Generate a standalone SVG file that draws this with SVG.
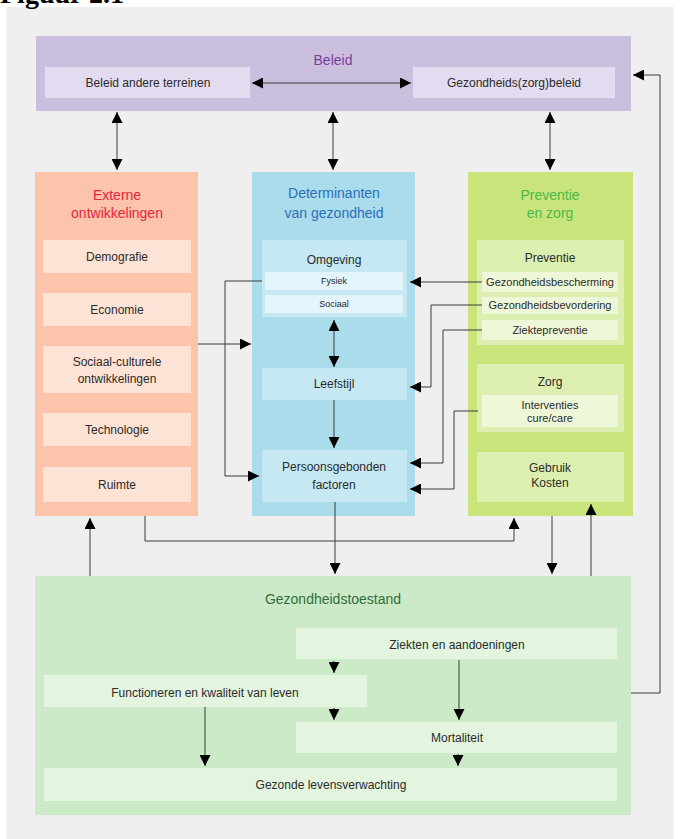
<svg xmlns="http://www.w3.org/2000/svg" width="680" height="839" viewBox="0 0 680 839">
<defs>
<style>
text{font-family:"Liberation Sans",Arial,sans-serif;fill:#2b2b2b;text-anchor:middle;font-size:12px}
.t{font-size:14px}
.s{font-size:11px}
.xs{font-size:9px}
.ln{fill:none;stroke:#3a3a3a;stroke-width:1}
.a{marker-end:url(#ah)}
.aa{marker-start:url(#ah);marker-end:url(#ah)}
</style>
<marker id="ah" viewBox="0 0 10 10" refX="10" refY="5" markerWidth="11" markerHeight="11" markerUnits="userSpaceOnUse" orient="auto-start-reverse">
<path d="M0,0 L10,5 L0,10 z" fill="#000"/>
</marker>
</defs>
<rect x="0" y="0" width="680" height="839" fill="#fff"/>
<rect x="6" y="7" width="668" height="832" fill="#efefef"/>
<text x="0" y="3" style="font-family:'Liberation Serif','Times New Roman',serif;font-size:28px;font-weight:bold;text-anchor:start;fill:#000">Figuur 2.1</text>

<g id="beleid">
<rect x="36" y="36" width="595" height="75" fill="#cbbfe0"/>
<text class="t" x="333" y="65" style="fill:#7a3e9d">Beleid</text>
</g>
<g id="beleid-andere">
<rect x="45" y="67" width="205" height="31" fill="#e3dbef"/>
<text x="148" y="87">Beleid andere terreinen</text>
</g>
<g id="gezondheidszorgbeleid">
<rect x="413" y="67" width="202" height="31" fill="#e3dbef"/>
<text x="514" y="87">Gezondheids(zorg)beleid</text>
</g>

<g id="externe">
<rect x="35" y="172" width="163" height="344" fill="#fbc4ab"/>
<text class="t" x="117" y="200" style="fill:#e5243b">Externe</text>
<text class="t" x="117" y="218" style="fill:#e5243b">ontwikkelingen</text>
</g>
<g id="demografie"><rect x="43" y="240" width="148" height="33" fill="#fde3d5"/><text x="117" y="261">Demografie</text></g>
<g id="economie"><rect x="43" y="293" width="148" height="33" fill="#fde3d5"/><text x="117" y="314">Economie</text></g>
<g id="sociaal-cultureel"><rect x="43" y="346" width="148" height="47" fill="#fde3d5"/><text x="117" y="366">Sociaal-culturele</text><text x="117" y="383">ontwikkelingen</text></g>
<g id="technologie"><rect x="43" y="413" width="148" height="33" fill="#fde3d5"/><text x="117" y="434">Technologie</text></g>
<g id="ruimte"><rect x="43" y="467" width="148" height="35" fill="#fde3d5"/><text x="117" y="489">Ruimte</text></g>

<g id="determinanten">
<rect x="252" y="172" width="163" height="344" fill="#aadcec"/>
<text class="t" x="334" y="198" style="fill:#2b6fb8">Determinanten</text>
<text class="t" x="334" y="218" style="fill:#2b6fb8">van gezondheid</text>
</g>
<g id="omgeving">
<rect x="262" y="240" width="145" height="77" fill="#c6e8f3"/>
<text x="334" y="264">Omgeving</text>
<rect x="265" y="272" width="138" height="18" fill="#e3f4fa"/>
<text class="xs" x="334" y="284">Fysiek</text>
<rect x="265" y="295" width="138" height="18" fill="#e3f4fa"/>
<text class="xs" x="334" y="307">Sociaal</text>
</g>
<g id="leefstijl"><rect x="262" y="368" width="145" height="32" fill="#c6e8f3"/><text x="334" y="388">Leefstijl</text></g>
<g id="persoonsgebonden"><rect x="262" y="450" width="145" height="52" fill="#c6e8f3"/><text x="334" y="471">Persoonsgebonden</text><text x="334" y="489">factoren</text></g>

<g id="preventie-zorg">
<rect x="468" y="172" width="165" height="344" fill="#c8e47a"/>
<text class="t" x="550" y="200" style="fill:#4cb848">Preventie</text>
<text class="t" x="550" y="218" style="fill:#4cb848">en zorg</text>
</g>
<g id="preventie">
<rect x="477" y="240" width="147" height="105" fill="#dcefb0"/>
<text x="550" y="262">Preventie</text>
<rect x="482" y="272" width="136" height="20" fill="#eef7d8"/>
<text class="s" x="550" y="286">Gezondheidsbescherming</text>
<rect x="482" y="297" width="136" height="17" fill="#eef7d8"/>
<text class="s" x="550" y="309">Gezondheidsbevordering</text>
<rect x="482" y="320" width="136" height="20" fill="#eef7d8"/>
<text class="s" x="550" y="334">Ziektepreventie</text>
</g>
<g id="zorg">
<rect x="477" y="364" width="147" height="68" fill="#dcefb0"/>
<text x="550" y="386">Zorg</text>
<rect x="482" y="395" width="136" height="32" fill="#eef7d8"/>
<text class="s" x="550" y="409">Interventies</text>
<text class="s" x="550" y="422">cure/care</text>
</g>
<g id="gebruik-kosten"><rect x="477" y="452" width="147" height="50" fill="#dcefb0"/><text x="550" y="472">Gebruik</text><text x="550" y="487">Kosten</text></g>

<g id="gezondheidstoestand">
<rect x="35" y="576" width="596" height="239" fill="#cdeac8"/>
<text class="t" x="333" y="604" style="fill:#2f6e3a">Gezondheidstoestand</text>
</g>
<g id="ziekten"><rect x="296" y="628" width="321" height="31" fill="#e3f4df"/><text x="457" y="649">Ziekten en aandoeningen</text></g>
<g id="functioneren"><rect x="44" y="675" width="323" height="32" fill="#e3f4df"/><text x="205" y="697">Functioneren en kwaliteit van leven</text></g>
<g id="mortaliteit"><rect x="296" y="722" width="321" height="31" fill="#e3f4df"/><text x="457" y="742">Mortaliteit</text></g>
<g id="gezonde-levensverwachting"><rect x="44" y="768" width="573" height="33" fill="#e3f4df"/><text x="331" y="789">Gezonde levensverwachting</text></g>

<g id="connectors">
<line class="ln aa" x1="252" y1="83" x2="411" y2="83"/>
<line class="ln aa" x1="117" y1="112" x2="117" y2="170"/>
<line class="ln aa" x1="333" y1="112" x2="333" y2="170"/>
<line class="ln aa" x1="550" y1="112" x2="550" y2="170"/>
<line class="ln aa" x1="334" y1="320" x2="334" y2="367"/>
<line class="ln a" x1="334" y1="400" x2="334" y2="448"/>
<line class="ln a" x1="198" y1="344" x2="251" y2="344"/>
<polyline class="ln a" points="262,281 225,281 225,476 259,476"/>
<line class="ln a" x1="482" y1="282" x2="410" y2="282"/>
<polyline class="ln a" points="482,305 431,305 431,387 410,387"/>
<polyline class="ln a" points="482,330 443,330 443,463 410,463"/>
<polyline class="ln a" points="478,411 454,411 454,489 410,489"/>
<line class="ln a" x1="90" y1="576" x2="90" y2="518"/>
<polyline class="ln a" points="145,516 145,541 514,541 514,518"/>
<line class="ln a" x1="335" y1="502" x2="335" y2="574"/>
<line class="ln a" x1="552" y1="516" x2="552" y2="574"/>
<line class="ln a" x1="591" y1="576" x2="591" y2="504"/>
<polyline class="ln a" points="631,693 660,693 660,75 633,75"/>
<line class="ln a" x1="334" y1="661" x2="334" y2="673"/>
<line class="ln a" x1="334" y1="708" x2="334" y2="720"/>
<line class="ln a" x1="459" y1="660" x2="459" y2="720"/>
<line class="ln a" x1="205" y1="707" x2="205" y2="766"/>
<line class="ln a" x1="458" y1="754" x2="458" y2="766"/>
</g>
</svg>
